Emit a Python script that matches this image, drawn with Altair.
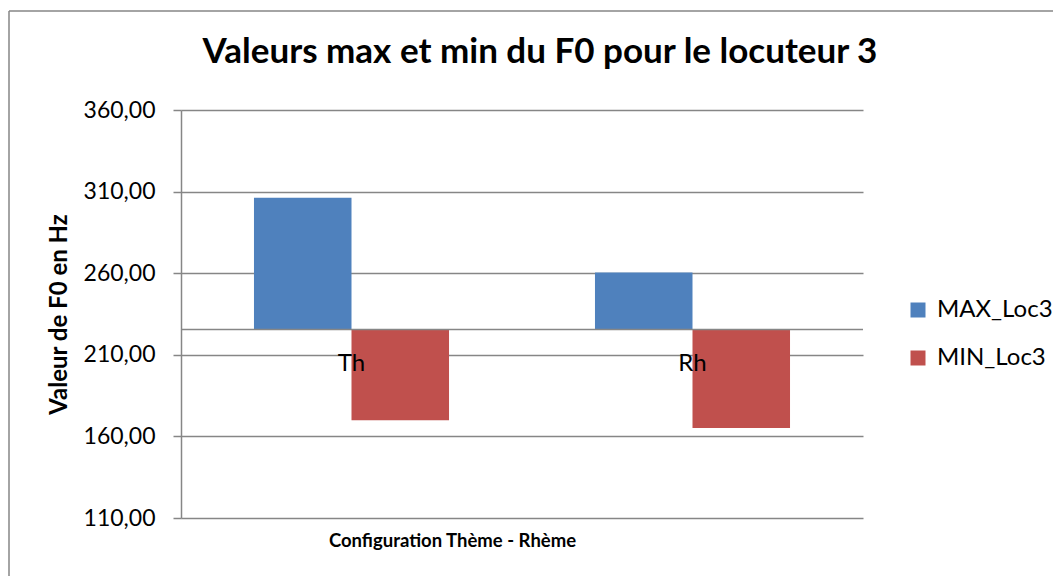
import altair as alt
import pandas as pd

categories = ["Th", "Rh"]
series = ["MAX_Loc3", "MIN_Loc3"]
max_values = [306.2, 260.5]
min_values = [169.9, 165.2]
baseline_value = 225.5
y_ticks = [110, 160, 210, 260, 310, 360]
colors = ["#4F81BD", "#C0504D"]

rows = []
for c, mx, mn in zip(categories, max_values, min_values):
    rows.append({"cat": c, "series": series[0], "value": mx, "base": baseline_value})
    rows.append({"cat": c, "series": series[1], "value": mn, "base": baseline_value})
df = pd.DataFrame(rows)
label_df = pd.DataFrame({"cat": categories, "base": [baseline_value] * len(categories)})
base_df = pd.DataFrame({"base": [baseline_value]})

W, H = 682, 408
FONT = "Lato"
GRID = "#868686"

y_scale = alt.Scale(domain=[110, 360], nice=False, zero=False)
y_axis = alt.Axis(
    values=y_ticks,
    labelExpr="replace(format(datum.value, '.2f'), '.', ',')",
    title="Valeur de F0 en Hz",
    grid=True, gridColor=GRID, gridWidth=1.5,
    domainColor=GRID, domainWidth=1.5,
    tickColor=GRID, tickWidth=1.5, tickSize=8,
    labelPadding=18, labelFontSize=23, labelFont=FONT, labelColor="#000",
    titleFontSize=24, titleFont=FONT, titleFontWeight="bold", titleColor="#000",
    titlePadding=12,
)
x_enc = alt.X(
    "cat:N", sort=categories,
    scale=alt.Scale(paddingInner=0.428, paddingOuter=0.214),
    axis=alt.Axis(
        title="Configuration Thème - Rhème", labels=False, ticks=False, domain=False,
        titleX=271, titleY=22, titleBaseline="middle",
        titleFontSize=18.5, titleFontWeight="bold", titleFont=FONT, titleColor="#000",
    ),
)

bars = alt.Chart(df).mark_bar().encode(
    x=x_enc,
    xOffset=alt.XOffset("series:N", sort=series, scale=alt.Scale(paddingInner=0, paddingOuter=0)),
    y=alt.Y("value:Q", scale=y_scale, axis=y_axis),
    y2="base:Q",
    color=alt.Color(
        "series:N", sort=series,
        scale=alt.Scale(domain=series, range=colors),
        legend=alt.Legend(
            title=None, orient="none", legendX=725, legendY=188,
            symbolType="square", symbolSize=225, symbolStrokeWidth=0,
            labelFontSize=24, labelFont=FONT, labelColor="#000",
            labelOffset=7, rowPadding=24,
        ),
    ),
)

baseline_rule = alt.Chart(base_df).mark_rule(color=GRID, strokeWidth=1.5).encode(
    y=alt.Y("base:Q", scale=y_scale, axis=y_axis),
    x=alt.value(0),
    x2=alt.value(W),
)

cat_labels = alt.Chart(label_df).mark_text(
    dy=34, fontSize=24, font=FONT, color="#000", baseline="middle"
).encode(
    x=x_enc,
    y=alt.Y("base:Q", scale=y_scale, axis=y_axis),
    text="cat:N",
)

frame = alt.Chart(alt.Data(values=[{}]))
border_left = frame.mark_rule(color=GRID, strokeWidth=1.5).encode(
    x=alt.value(-172), y=alt.value(-99), y2=alt.value(466)
)
border_top = frame.mark_rule(color=GRID, strokeWidth=1.5).encode(
    x=alt.value(-172), x2=alt.value(872), y=alt.value(-99)
)

chart = alt.layer(bars, baseline_rule, cat_labels, border_left, border_top).properties(
    width=W,
    height=H,
    autosize=alt.AutoSizeParams(type="none"),
    padding={"left": 173, "top": 102, "right": 190, "bottom": 58},
    title=alt.Title(
        "Valeurs max et min du F0 pour le locuteur 3",
        fontSize=35, font=FONT, fontWeight="bold", color="#000",
        dx=18, offset=-88, baseline="alphabetic", frame="group",
    ),
).configure_view(stroke=None)

chart.save("out.html", embed_options={"renderer": "svg", "actions": False})
